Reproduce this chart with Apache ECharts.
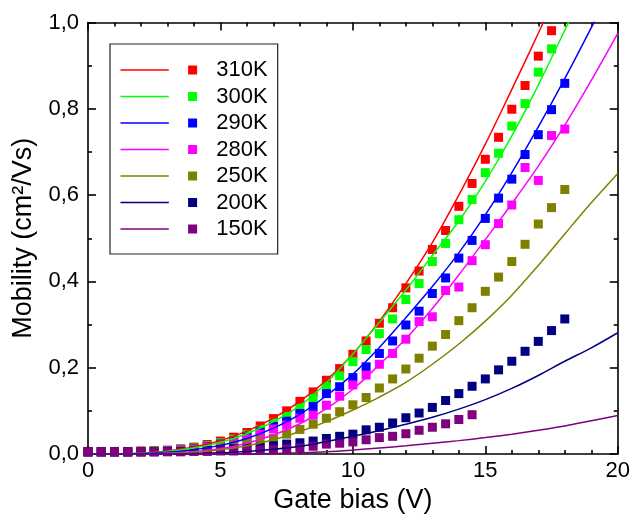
<!DOCTYPE html>
<html>
<head>
<meta charset="utf-8">
<script src="https://cdn.jsdelivr.net/npm/echarts@6/dist/echarts.min.js"></script>
<style>
  html, body { margin: 0; padding: 0; background: #fff; }
  #chart { width: 633px; height: 523px; }
</style>
</head>
<body>
<div id="chart"></div>
<script>
// Gate bias (V) for the measured points, 0 to 18 V in 0.5 V steps
const biasPoints = [0,0.5,1,1.5,2,2.5,3,3.5,4,4.5,5,5.5,6,6.5,7,7.5,8,8.5,9,9.5,10,10.5,11,11.5,12,12.5,13,13.5,14,14.5,15,15.5,16,16.5,17,17.5,18];
// Gate bias (V) for the fitted curves, 1 V steps
const biasFit = [0,1,2,3,4,5,6,7,8,9,10,11,12,13,14,15,16,17,18,19,20];

const temperatures = ['310K','300K','290K','280K','250K','200K','150K'];
const colors = ['#ff0000','#00ff00','#0000ff','#ff00ff','#808000','#000080','#800080'];

// Measured mobility (cm2/Vs)
const mu310 = [0.006,0.006,0.006,0.006,0.007,0.008,0.009,0.012,0.016,0.022,0.030,0.039,0.050,0.065,0.082,0.100,0.122,0.144,0.171,0.198,0.231,0.262,0.303,0.339,0.385,0.424,0.474,0.518,0.574,0.627,0.683,0.734,0.799,0.854,0.922,0.981];
const mu300 = [0.005,0.005,0.005,0.005,0.006,0.007,0.008,0.010,0.014,0.019,0.026,0.034,0.045,0.057,0.072,0.087,0.106,0.129,0.156,0.181,0.214,0.242,0.279,0.313,0.358,0.395,0.446,0.488,0.543,0.590,0.652,0.697,0.760,0.812,0.885,0.939];
const mu290 = [0.005,0.005,0.005,0.005,0.006,0.006,0.007,0.009,0.012,0.017,0.023,0.030,0.039,0.051,0.064,0.076,0.094,0.110,0.140,0.156,0.177,0.202,0.233,0.262,0.299,0.331,0.372,0.408,0.454,0.495,0.546,0.593,0.637,0.694,0.740,0.798,0.859];
const mu280 = [0.005,0.005,0.005,0.005,0.005,0.006,0.007,0.008,0.011,0.016,0.021,0.027,0.035,0.046,0.058,0.067,0.083,0.090,0.113,0.134,0.160,0.183,0.208,0.233,0.266,0.307,0.318,0.379,0.387,0.448,0.485,0.534,0.577,0.664,0.634,0.738,0.753];
const mu250 = [0.005,0.005,0.005,0.005,0.005,0.006,0.006,0.007,0.009,0.012,0.016,0.020,0.025,0.030,0.036,0.046,0.057,0.069,0.083,0.098,0.114,0.131,0.153,0.174,0.197,0.222,0.250,0.277,0.309,0.339,0.377,0.410,0.446,0.486,0.533,0.571,0.613];
const mu200 = [0.005,0.005,0.005,0.005,0.005,0.005,0.006,0.006,0.007,0.008,0.010,0.012,0.014,0.016,0.019,0.023,0.026,0.030,0.036,0.041,0.046,0.056,0.062,0.072,0.084,0.095,0.108,0.124,0.140,0.157,0.174,0.195,0.215,0.238,0.261,0.286,0.313];
const mu150 = [0.005,0.005,0.005,0.005,0.005,0.005,0.005,0.005,0.006,0.006,0.007,0.007,0.008,0.009,0.010,0.012,0.014,0.018,0.023,0.025,0.028,0.033,0.038,0.041,0.047,0.055,0.062,0.070,0.080,0.091];

// Fitted mobility curves (cm2/Vs)
const fit310 = [0,0.0003,0.002,0.007,0.016,0.031,0.053,0.083,0.122,0.171,0.232,0.308,0.395,0.490,0.600,0.718,0.845,0.975,1.110];
const fit300 = [0,0.0002,0.002,0.006,0.014,0.027,0.047,0.075,0.112,0.165,0.232,0.305,0.380,0.460,0.540,0.632,0.737,0.855,0.982,1.110];
const fit290 = [0,0,0.001,0.004,0.010,0.020,0.036,0.060,0.092,0.135,0.185,0.247,0.316,0.388,0.466,0.554,0.652,0.758,0.870,0.988,1.110];
const fit280 = [0,0,0,0.002,0.005,0.012,0.025,0.044,0.070,0.105,0.150,0.207,0.267,0.337,0.415,0.497,0.580,0.667,0.762,0.866,0.975];
const fit250 = [0,0,0,0.001,0.004,0.010,0.019,0.033,0.052,0.075,0.102,0.132,0.166,0.208,0.255,0.308,0.368,0.437,0.510,0.582,0.650];
const fit200 = [0,0,0,0,0.001,0.003,0.006,0.011,0.018,0.029,0.041,0.054,0.069,0.085,0.104,0.126,0.152,0.182,0.215,0.246,0.281];
const fit150 = [0,0,0,0,0,0,0.0005,0.001,0.003,0.005,0.009,0.014,0.019,0.025,0.031,0.038,0.046,0.055,0.065,0.077,0.089];

const measured = [mu310, mu300, mu290, mu280, mu250, mu200, mu150];
const fitted = [fit310, fit300, fit290, fit280, fit250, fit200, fit150];

const FONT = 'Liberation Sans, Arial, Helvetica, sans-serif';
const commaFmt = v => v.toFixed(1).replace('.', ',');

function pairs(xs, ys) {
  return ys.map((y, i) => [xs[i], y]);
}

const series = [];
temperatures.forEach((t, i) => {
  series.push({
    name: t,
    type: 'scatter',
    symbol: 'rect',
    symbolSize: 9,
    itemStyle: { color: colors[i], opacity: 1 },
    data: pairs(biasPoints, measured[i]),
    z: 2,
    silent: true
  });
});
temperatures.forEach((t, i) => {
  series.push({
    name: t + ' fit',
    type: 'line',
    smooth: 0.35,
    showSymbol: false,
    lineStyle: { color: colors[i], width: 1.5 },
    itemStyle: { color: colors[i] },
    data: pairs(biasFit, fitted[i]),
    z: 3,
    silent: true
  });
});

const axisLineStyle = { color: '#000', width: 1.6 };

const option = {
  animation: false,
  backgroundColor: '#fff',
  grid: { left: 88, right: 15, top: 22.5, bottom: 69 },
  legend: {
    orient: 'vertical',
    left: 110,
    top: 44,
    data: temperatures,
    icon: 'path://M0,3.75L48.3,3.75L48.3,5.25L0,5.25Z M67.6,0L76.6,0L76.6,9L67.6,9Z',
    itemWidth: 77,
    itemHeight: 9,
    itemGap: 4.5,
    padding: [15, 10, 14, 10.5],
    borderColor: '#222',
    borderWidth: 1.2,
    selectedMode: false,
    textStyle: { fontFamily: FONT, fontSize: 22, color: '#000', lineHeight: 22, padding: [0, 0, 0, 14] }
  },
  xAxis: [
    {
      type: 'value', min: 0, max: 20, interval: 5, position: 'bottom',
      name: 'Gate bias (V)', nameLocation: 'middle', nameGap: 29,
      nameTextStyle: { fontFamily: FONT, fontSize: 27, color: '#000' },
      axisLine: { show: true, onZero: false, lineStyle: axisLineStyle },
      axisTick: { show: true, inside: true, length: 8, lineStyle: axisLineStyle },
      minorTick: { show: true, splitNumber: 5, length: 4, lineStyle: axisLineStyle },
      splitLine: { show: false },
      axisLabel: { fontFamily: FONT, fontSize: 22, color: '#000', margin: 6 }
    },
    {
      type: 'value', min: 0, max: 20, interval: 5, position: 'top',
      axisLine: { show: true, onZero: false, lineStyle: axisLineStyle },
      axisTick: { show: true, inside: true, length: 8, lineStyle: axisLineStyle },
      minorTick: { show: true, splitNumber: 5, length: 4, lineStyle: axisLineStyle },
      splitLine: { show: false },
      axisLabel: { show: false }
    }
  ],
  yAxis: [
    {
      type: 'value', min: 0, max: 1, interval: 0.2, position: 'left',
      name: 'Mobility (cm²/Vs)', nameLocation: 'middle', nameGap: 49,
      nameTextStyle: { fontFamily: FONT, fontSize: 27, color: '#000' },
      axisLine: { show: true, onZero: false, lineStyle: axisLineStyle },
      axisTick: { show: true, inside: true, length: 8, lineStyle: axisLineStyle },
      minorTick: { show: true, splitNumber: 2, length: 4, lineStyle: axisLineStyle },
      splitLine: { show: false },
      axisLabel: { fontFamily: FONT, fontSize: 22, color: '#000', margin: 9, formatter: commaFmt }
    },
    {
      type: 'value', min: 0, max: 1, interval: 0.2, position: 'right',
      axisLine: { show: true, onZero: false, lineStyle: axisLineStyle },
      axisTick: { show: true, inside: true, length: 8, lineStyle: axisLineStyle },
      minorTick: { show: true, splitNumber: 2, length: 4, lineStyle: axisLineStyle },
      splitLine: { show: false },
      axisLabel: { show: false }
    }
  ],
  series: series
};

const chart = echarts.init(document.getElementById('chart'), null, { renderer: 'canvas' });
chart.setOption(option);
</script>
</body>
</html>
